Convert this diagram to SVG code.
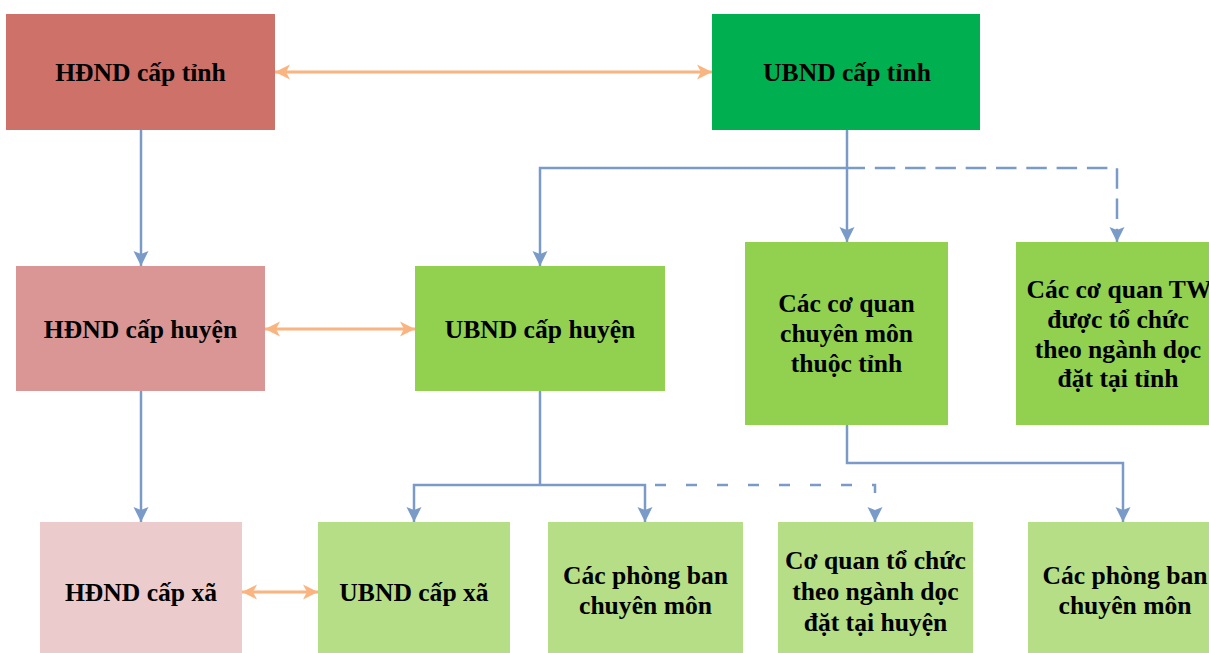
<svg xmlns="http://www.w3.org/2000/svg" width="1209" height="653" viewBox="0 0 1209 653">
  <defs>
    <style>
      .box text { font-family: "Liberation Serif", "Times New Roman", serif; font-weight: bold; font-size: 25.6px; fill: #000; text-anchor: middle; }
      .hdnd1 { fill: #CD7169; }
      .hdnd2 { fill: #D99694; }
      .hdnd3 { fill: #EBCBCB; }
      .ub1 { fill: #00B050; }
      .ub2 { fill: #92D050; }
      .ub3 { fill: #B6DE87; }
      .link { fill: none; stroke: #7A9BC8; stroke-width: 2.5; }
      .dash-top { stroke-dasharray: 20.5 9.8; stroke-dashoffset: 2.5; }
      .dash-bot { stroke-dasharray: 11 20; stroke-dashoffset: 21; }
      .peer { fill: none; stroke: #FAB47F; stroke-width: 3; }
    </style>
    <marker id="blueHead" markerUnits="userSpaceOnUse" markerWidth="16" markerHeight="16" viewBox="0 -8 16 16" refX="15" refY="0" orient="auto">
      <path d="M15,0 L0,-7.5 L3,0 L0,7.5 Z" fill="#7A9BC8"/>
    </marker>
    <marker id="orangeHead" markerUnits="userSpaceOnUse" markerWidth="16" markerHeight="16" viewBox="0 -8 16 16" refX="15" refY="0" orient="auto-start-reverse">
      <path d="M15,0 L0,-7.5 L4,0 L0,7.5 Z" fill="#FAB47F"/>
    </marker>
  </defs>

  <rect x="0" y="0" width="1209" height="653" fill="#ffffff"/>

  <!-- province level -->
  <g id="hdnd-tinh" class="box">
    <rect class="hdnd1" x="6" y="14" width="269" height="116"/>
    <text x="140.5" y="80.5">HĐND cấp tỉnh</text>
  </g>
  <g id="ubnd-tinh" class="box">
    <rect class="ub1" x="712" y="14" width="268" height="116"/>
    <text x="847" y="80.5">UBND cấp tỉnh</text>
  </g>

  <!-- district level -->
  <g id="hdnd-huyen" class="box">
    <rect class="hdnd2" x="16" y="266" width="249" height="125"/>
    <text x="140.5" y="337.5">HĐND cấp huyện</text>
  </g>
  <g id="ubnd-huyen" class="box">
    <rect class="ub2" x="415" y="266" width="250" height="125"/>
    <text x="540" y="337.5">UBND cấp huyện</text>
  </g>
  <g id="co-quan-chuyen-mon-tinh" class="box">
    <rect class="ub2" x="745" y="242" width="203" height="183"/>
    <text x="846.5" y="312">Các cơ quan</text>
    <text x="846.5" y="342">chuyên môn</text>
    <text x="846.5" y="372">thuộc tỉnh</text>
  </g>
  <g id="co-quan-tw" class="box">
    <rect class="ub2" x="1016" y="242" width="204" height="183"/>
    <text x="1119" y="298">Các cơ quan TW</text>
    <text x="1118" y="328">được tổ chức</text>
    <text x="1118" y="357.5">theo ngành dọc</text>
    <text x="1118" y="387">đặt tại tỉnh</text>
  </g>

  <!-- commune level -->
  <g id="hdnd-xa" class="box">
    <rect class="hdnd3" x="40" y="522" width="202" height="140"/>
    <text x="141" y="600.5">HĐND cấp xã</text>
  </g>
  <g id="ubnd-xa" class="box">
    <rect class="ub3" x="318" y="522" width="192" height="140"/>
    <text x="414" y="600.5">UBND cấp xã</text>
  </g>
  <g id="phong-ban-huyen" class="box">
    <rect class="ub3" x="548" y="522" width="195" height="140"/>
    <text x="645.5" y="583.5">Các phòng ban</text>
    <text x="645.5" y="614">chuyên môn</text>
  </g>
  <g id="co-quan-nganh-doc-huyen" class="box">
    <rect class="ub3" x="778" y="522" width="195" height="140"/>
    <text x="875.5" y="569">Cơ quan tổ chức</text>
    <text x="875.5" y="600">theo ngành dọc</text>
    <text x="875.5" y="631">đặt tại huyện</text>
  </g>
  <g id="phong-ban-tinh" class="box">
    <rect class="ub3" x="1028" y="522" width="196" height="140"/>
    <text x="1125" y="583.5">Các phòng ban</text>
    <text x="1125" y="613.5">chuyên môn</text>
  </g>

  <g id="connectors">
    <!-- council / committee pairs -->
    <line class="peer" x1="275" y1="72" x2="712" y2="72" marker-start="url(#orangeHead)" marker-end="url(#orangeHead)"/>
    <line class="peer" x1="265" y1="329" x2="415" y2="329" marker-start="url(#orangeHead)" marker-end="url(#orangeHead)"/>
    <line class="peer" x1="242" y1="592" x2="318" y2="592" marker-start="url(#orangeHead)" marker-end="url(#orangeHead)"/>

    <!-- council chain -->
    <path class="link" d="M141,130 V266" marker-end="url(#blueHead)"/>
    <path class="link" d="M141,391 V522" marker-end="url(#blueHead)"/>

    <!-- provincial committee -->
    <path class="link" d="M847,130 V242" marker-end="url(#blueHead)"/>
    <path class="link" d="M847,168 H540 V266" marker-end="url(#blueHead)"/>
    <path class="link dash-top" d="M847,168 H1117 V242" marker-end="url(#blueHead)"/>

    <!-- district committee -->
    <path class="link" d="M540,391 V485"/>
    <path class="link" d="M540,485 H414 V522" marker-end="url(#blueHead)"/>
    <path class="link" d="M540,485 H645 V522" marker-end="url(#blueHead)"/>
    <path class="link dash-bot" d="M645,485 H875 V522" marker-end="url(#blueHead)"/>

    <!-- provincial departments to district offices -->
    <path class="link" d="M847,425 V463 H1123 V522" marker-end="url(#blueHead)"/>
  </g>
</svg>
